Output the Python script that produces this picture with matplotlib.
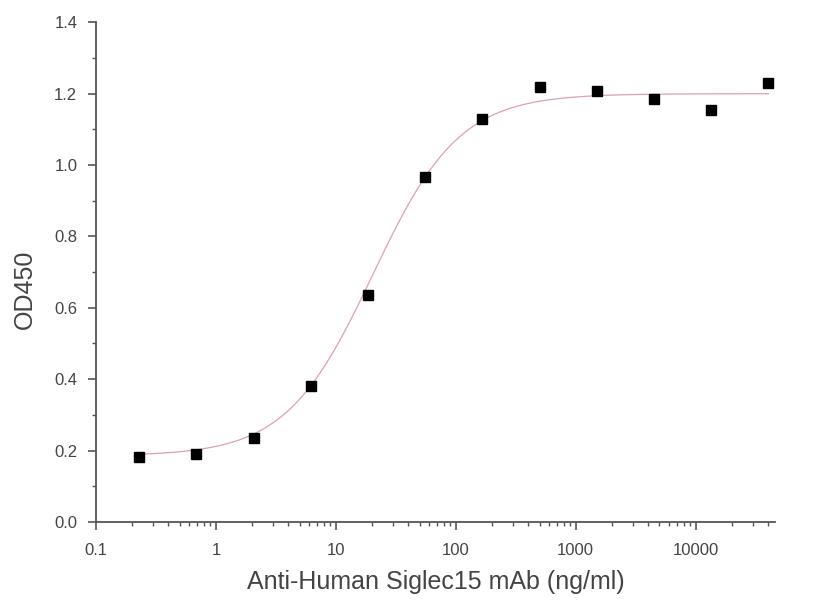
import numpy as np
import matplotlib
matplotlib.use("Agg")
import matplotlib.pyplot as plt
from matplotlib.ticker import LogLocator, MultipleLocator, FixedLocator, FixedFormatter

plt.rcParams['font.family'] = ['Liberation Sans', 'DejaVu Sans']

conc = [0.229, 0.686, 2.06, 6.17, 18.5, 55.6, 167, 500, 1500, 4500, 13500, 40500]
od450 = [0.182, 0.190, 0.235, 0.381, 0.636, 0.966, 1.129, 1.218, 1.207, 1.185, 1.154, 1.230]

# 4PL fit parameters
fit_bottom = 0.185
fit_top = 1.200
fit_ec50 = 20.3
fit_hill = 1.2

xticks = [0.1, 1, 10, 100, 1000, 10000]
xticklabels = ['0.1', '1', '10', '100', '1000', '10000']
yticks = [0.0, 0.2, 0.4, 0.6, 0.8, 1.0, 1.2, 1.4]
yticklabels = ['0.0', '0.2', '0.4', '0.6', '0.8', '1.0', '1.2', '1.4']

fig = plt.figure(figsize=(8.21, 6.02), dpi=100)
ax = fig.add_axes([0.117, 0.133, 0.827, 0.830])

xs = np.logspace(np.log10(conc[0]), np.log10(conc[-1]), 400)
ys = fit_bottom + (fit_top - fit_bottom) / (1 + (fit_ec50 / xs) ** fit_hill)
ax.plot(xs, ys, color='#e0a0aa', lw=0.9, zorder=2)
ax.plot(conc, od450, 's', color='black', ms=7.5, zorder=3)

ax.set_xscale('log')
ax.set_xlim(0.1, 46000)
ax.set_ylim(0, 1.4)
ax.xaxis.set_major_locator(FixedLocator(xticks))
ax.xaxis.set_major_formatter(FixedFormatter(xticklabels))
ax.xaxis.set_minor_locator(LogLocator(base=10, subs=np.arange(2, 10)))
ax.yaxis.set_major_locator(FixedLocator(yticks))
ax.yaxis.set_major_formatter(FixedFormatter(yticklabels))
ax.yaxis.set_minor_locator(MultipleLocator(0.1))

for s in ['top', 'right']:
    ax.spines[s].set_visible(False)
for s in ['left', 'bottom']:
    ax.spines[s].set_color('#555555')
    ax.spines[s].set_linewidth(1.3)

ax.tick_params(which='major', direction='out', length=5.5, width=1.2, color='#555555',
               labelsize=12, labelcolor='#444444')
ax.tick_params(which='minor', direction='out', length=3, width=1.0, color='#555555')
ax.tick_params(axis='x', which='major', pad=10)
ax.tick_params(axis='y', which='major', pad=8)

ax.set_xlabel('Anti-Human Siglec15 mAb (ng/ml)', fontsize=18, color='#444444', labelpad=8)
ax.set_ylabel('OD450', fontsize=18, color='#444444')
ax.yaxis.set_label_coords(-0.087, 0.466)

fig.savefig('out.png', dpi=100)
